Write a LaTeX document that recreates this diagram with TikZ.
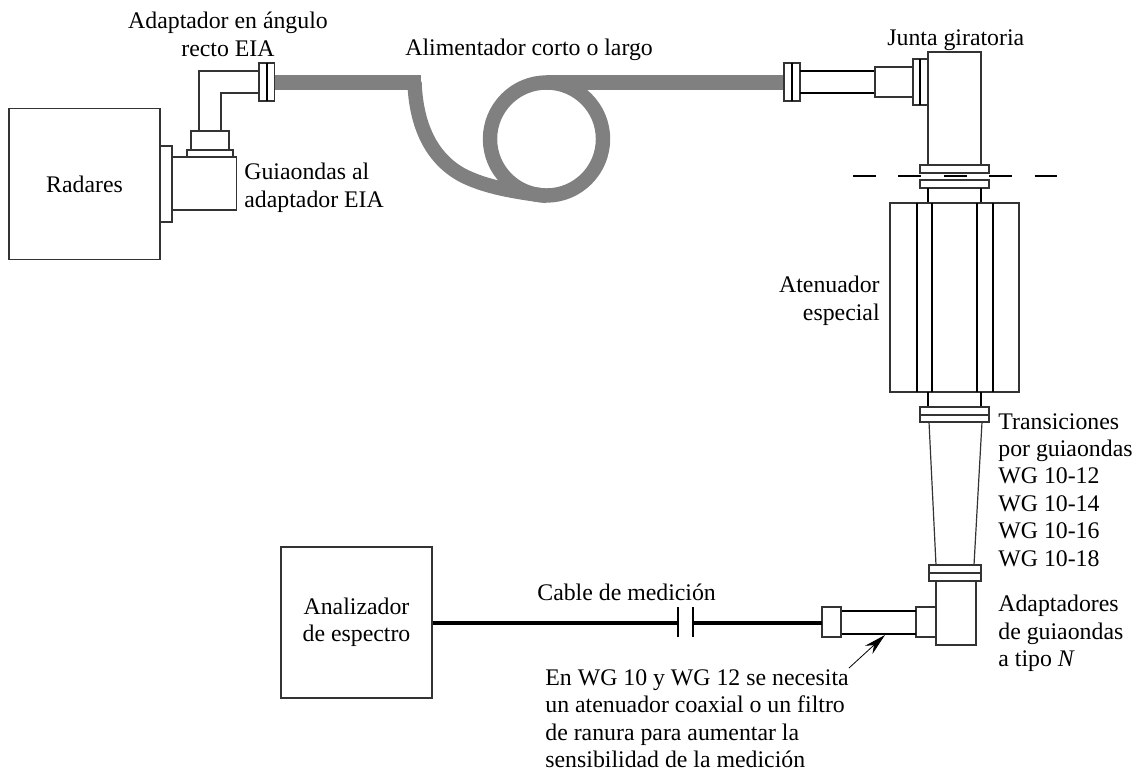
\documentclass[tikz,border=0pt]{standalone}
\usepackage{fontspec}
\setmainfont{Liberation Serif}
\usetikzlibrary{arrows.meta}
\tikzset{
  part/.style={draw=black!80, line width=0.6pt, fill=white},
  tube/.style={draw=black, line width=1.1pt},
  feeder/.style={draw=black!50, line width=7.2pt},
  caption/.style={align=left, anchor=north west, inner sep=0pt, font=\fontsize{11.9}{13.7}\selectfont},
  unitbox/.style={draw=black!80, line width=0.6pt, align=center, inner sep=0pt, font=\fontsize{11.9}{13.7}\selectfont},
}
\begin{document}
\begin{tikzpicture}[x=0.5pt, y=-0.5pt, line join=miter]
\useasboundingbox (0,0) rectangle (1136,771);

% Alimentador
\draw[feeder] (274,82.5) -- (421,82.5);
\draw[feeder] (546,82.5) -- (785,82.5);
\draw[feeder] (546.5,139) circle (56.5);
\draw[feeder] (414.5,82) .. controls (416,125) and (431,158) .. (462,175)
  .. controls (485,187) and (515,192) .. (547,196);

% Radares
\node[unitbox, minimum width=75.5pt, minimum height=75.5pt] (radares) at (84.5,184) {Radares};
\draw[part] (160,146) rectangle (172,222);
\draw[part] (172,157) rectangle (236.5,210);
\draw[part] (187,150) rectangle (233,157);
\draw[part] (191,131) rectangle (229,150);

% Adaptador en angulo
\draw[part, fill=none] (199,131) -- (199,71) -- (259,71);
\draw[part, fill=none] (221,131) -- (221,93) -- (259,93);
\draw[part] (259,63) rectangle (274.5,101);
\draw[tube] (267,63) -- (267,101);

% Brida del alimentador
\draw[part] (784,63) rectangle (800,101);
\draw[tube] (792,63) -- (792,101);
\draw[tube] (800,71) -- (875,71);
\draw[tube] (800,93) -- (875,93);
\draw[part] (875,67) rectangle (913,97);
\draw[part] (913,59) rectangle (928,105);
\draw[tube] (920,59) -- (920,105);

% Junta giratoria
\draw[part] (928,52) rectangle (981,165);
\draw[part] (920,165) rectangle (989,173);
\draw[part] (920,180) rectangle (989,188);
\draw[line width=0.6pt, dash pattern=on 11.35pt off 11.35pt] (853,176) -- (1057,176);
\draw[tube] (928,188) -- (928,203);
\draw[tube] (981,188) -- (981,203);

% Atenuador
\draw[part] (890,203) rectangle (1019,392);
\foreach \xpos in {917,932,977,993}
  \draw[tube] (\xpos,203) -- (\xpos,392);
\draw[tube] (928,392) -- (928,407);
\draw[tube] (981,392) -- (981,407);

% Transiciones
\draw[part] (920,407) rectangle (989,422);
\draw[part] (920,415) -- (989,415);
\draw[part] (929,422) -- (936,565);
\draw[part] (982,422) -- (974,565);
\draw[part] (929,565) rectangle (981,581);
\draw[part] (929,573) -- (981,573);

% Adaptador a tipo N
\draw[part] (936,581) rectangle (976,645);
\draw[part] (916,607) rectangle (936,637);
\draw[tube] (841,611) -- (916,611);
\draw[tube] (841,634) -- (916,634);
\draw[part] (822,607) rectangle (841,637);

% Cable de medicion
\node[unitbox, minimum width=75.5pt, minimum height=75.5pt] (analizador) at (356.5,622.5) {Analizador\\de espectro};
\coordinate (capl) at (678,623);
\coordinate (capr) at (693,623);
\coordinate (conn) at (822,623);
\draw[tube, line width=1.6pt] (analizador.east |- capl) -- (capl);
\draw[tube, line width=1.6pt] (capr) -- (conn);
\draw[tube] (678,607) -- (678,637);
\draw[tube] (693,607) -- (693,637);

% Flecha
\coordinate (notetail) at (849,668);
\coordinate (notetip) at (885,635);
\draw[-{Stealth[length=11pt,width=5.5pt]}, line width=0.4pt] (notetail) -- (notetip);

% Textos
\node[caption, align=center, anchor=north] (adaptador) at (228,12) {Adaptador en ángulo\\recto EIA};
\node[caption] (alimentador) at (405,39) {Alimentador corto o largo};
\node[caption] (junta) at (887,29) {Junta giratoria};
\node[caption] (guiaondas) at (244,163) {Guiaondas al\\adaptador EIA};
\node[caption, align=right, anchor=north east] (atenuador) at (880,276) {Atenuador\\especial};
\node[caption] (transiciones) at (998,413) {Transiciones\\por guiaondas\\WG 10-12\\WG 10-14\\WG 10-16\\WG 10-18};
\node[caption] (tipon) at (998,595) {Adaptadores\\de guiaondas\\a tipo \textit{N}};
\node[caption] (cable) at (537,584) {Cable de medición};
\node[caption] (nota) at (545,669) {En WG 10 y WG 12 se necesita\\un atenuador coaxial o un filtro\\de ranura para aumentar la\\sensibilidad de la medición};

\end{tikzpicture}
\end{document}
